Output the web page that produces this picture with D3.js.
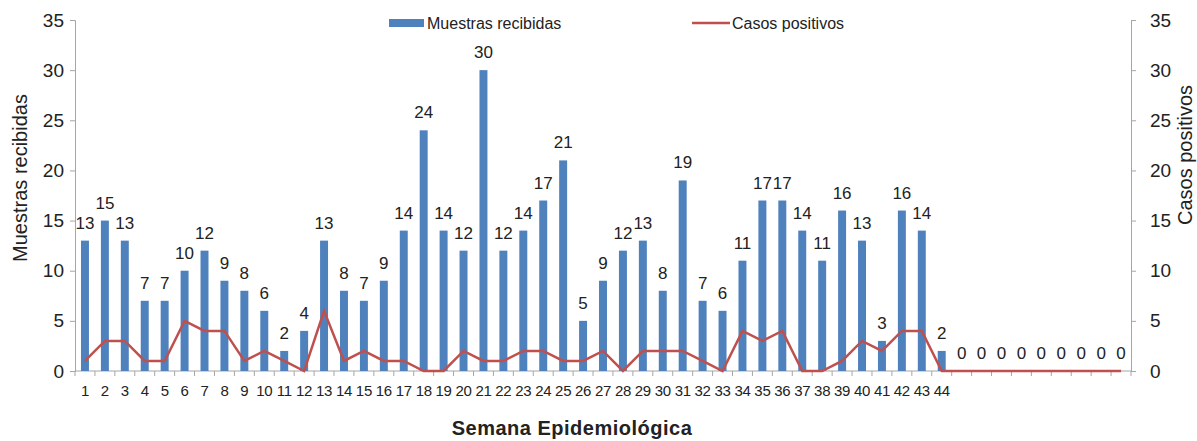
<!DOCTYPE html>
<html>
<head>
<meta charset="utf-8">
<script src="https://cdn.jsdelivr.net/npm/d3@7"></script>
<style>
  body { margin: 0; background: #fff; }
  svg text { font-family: "Liberation Sans", Arial, sans-serif; fill: #222; }
  .axis path, .axis line { stroke: #a6a6a6; }
</style>
</head>
<body>
<div id="chart"></div>
<script>
// semanas epidemiológicas 1..53 (solo 1..44 con etiqueta)
var weeks = d3.range(1, 54);
var weekLabels = weeks.map(function(w) { return w <= 44 ? String(w) : ""; });

var muestras = [13, 15, 13, 7, 7, 10, 12, 9, 8, 6, 2, 4, 13, 8, 7, 9, 14, 24, 14, 12, 30, 12, 14, 17, 21, 5,
  9, 12, 13, 8, 19, 7, 6, 11, 17, 17, 14, 11, 16, 13, 3, 16, 14, 2, 0, 0, 0, 0, 0, 0, 0, 0, 0];

var positivos = [1, 3, 3, 1, 1, 5, 4, 4, 1, 2, 1, 0, 6, 1, 2, 1, 1, 0, 0, 2, 1, 1, 2, 2, 1, 1,
  2, 0, 2, 2, 2, 1, 0, 4, 3, 4, 0, 0, 1, 3, 2, 4, 4, 0, 0, 0, 0, 0, 0, 0, 0, 0, 0];

var yTicks = [0, 5, 10, 15, 20, 25, 30, 35];

var barColor = "#4f81bd";
var lineColor = "#c0504d";

var W = 1197, H = 441;
var plotLeft = 75, plotRight = 1131, plotTop = 20, plotBottom = 371;

var svg = d3.select("#chart").append("svg")
  .attr("width", W)
  .attr("height", H);

var x = d3.scaleBand()
  .domain(weeks)
  .range([plotLeft, plotRight])
  .paddingInner(0.6)
  .paddingOuter(0.3);

var xb = d3.scaleBand() // banda sin padding para las marcas
  .domain(weeks)
  .range([plotLeft, plotRight]);

var yL = d3.scaleLinear().domain([0, 35]).range([plotBottom, plotTop]);
var yR = d3.scaleLinear().domain([0, 35]).range([plotBottom, plotTop]);

// eje izquierdo
var gL = svg.append("g")
  .attr("class", "axis")
  .attr("transform", "translate(" + plotLeft + ",0)")
  .call(d3.axisLeft(yL).tickValues(yTicks).tickSize(5).tickSizeOuter(5).tickPadding(6));
gL.selectAll("text").style("font-size", "19px").attr("fill", "#222");

// eje derecho
var gR = svg.append("g")
  .attr("class", "axis")
  .attr("transform", "translate(" + plotRight + ",0)")
  .call(d3.axisRight(yR).tickValues(yTicks).tickSize(5).tickSizeOuter(5).tickPadding(14));
gR.selectAll("text").style("font-size", "19px").attr("fill", "#222");

// eje x
var gX = svg.append("g")
  .attr("class", "axis")
  .attr("transform", "translate(0," + plotBottom + ")");
gX.append("line")
  .attr("x1", plotLeft).attr("x2", plotRight)
  .attr("stroke", "#a6a6a6");
gX.selectAll(".tk")
  .data(weeks.concat([54]))
  .enter().append("line")
  .attr("x1", function(d) { return d <= 53 ? xb(d) : plotRight; })
  .attr("x2", function(d) { return d <= 53 ? xb(d) : plotRight; })
  .attr("y1", 0).attr("y2", 5)
  .attr("stroke", "#a6a6a6");
gX.selectAll(".lbl")
  .data(weeks)
  .enter().append("text")
  .attr("x", function(d) { return xb(d) + xb.bandwidth() / 2; })
  .attr("y", 25)
  .attr("text-anchor", "middle")
  .style("font-size", "15px")
  .style("letter-spacing", "-0.3px")
  .text(function(d, i) { return weekLabels[i]; });

// barras
svg.selectAll(".bar")
  .data(muestras)
  .enter().append("rect")
  .attr("x", function(d, i) { return x(weeks[i]); })
  .attr("y", function(d) { return yL(d); })
  .attr("width", x.bandwidth())
  .attr("height", function(d) { return plotBottom - yL(d); })
  .attr("fill", barColor);

// etiquetas de barras
svg.selectAll(".barlbl")
  .data(muestras)
  .enter().append("text")
  .attr("x", function(d, i) { return x(weeks[i]) + x.bandwidth() / 2; })
  .attr("y", function(d) { return yL(d) - 12; })
  .attr("text-anchor", "middle")
  .style("font-size", "17px")
  .text(function(d) { return d; });

// línea de casos positivos
var line = d3.line()
  .x(function(d, i) { return xb(weeks[i]) + xb.bandwidth() / 2; })
  .y(function(d) { return yR(d); });

svg.append("path")
  .datum(positivos)
  .attr("d", line)
  .attr("fill", "none")
  .attr("stroke", lineColor)
  .attr("stroke-width", 2.5)
  .attr("stroke-linejoin", "miter");

// títulos de ejes
svg.append("text")
  .attr("transform", "translate(27,178) rotate(-90)")
  .attr("text-anchor", "middle")
  .style("font-size", "20px")
  .text("Muestras recibidas");

svg.append("text")
  .attr("transform", "translate(1192,155) rotate(-90)")
  .attr("text-anchor", "middle")
  .style("font-size", "20px")
  .text("Casos positivos");

svg.append("text")
  .attr("x", 572)
  .attr("y", 435)
  .attr("text-anchor", "middle")
  .style("font-size", "20px")
  .style("font-weight", "bold")
  .style("letter-spacing", "0.5px")
  .text("Semana Epidemiológica");

// leyenda
svg.append("rect")
  .attr("x", 389).attr("y", 19)
  .attr("width", 35).attr("height", 8)
  .attr("fill", barColor);
svg.append("text")
  .attr("x", 427).attr("y", 29)
  .style("font-size", "16px")
  .text("Muestras recibidas");

svg.append("line")
  .attr("x1", 692).attr("x2", 730)
  .attr("y1", 23).attr("y2", 23)
  .attr("stroke", lineColor)
  .attr("stroke-width", 2.5);
svg.append("text")
  .attr("x", 732).attr("y", 29)
  .style("font-size", "16px")
  .text("Casos positivos");
</script>
</body>
</html>
